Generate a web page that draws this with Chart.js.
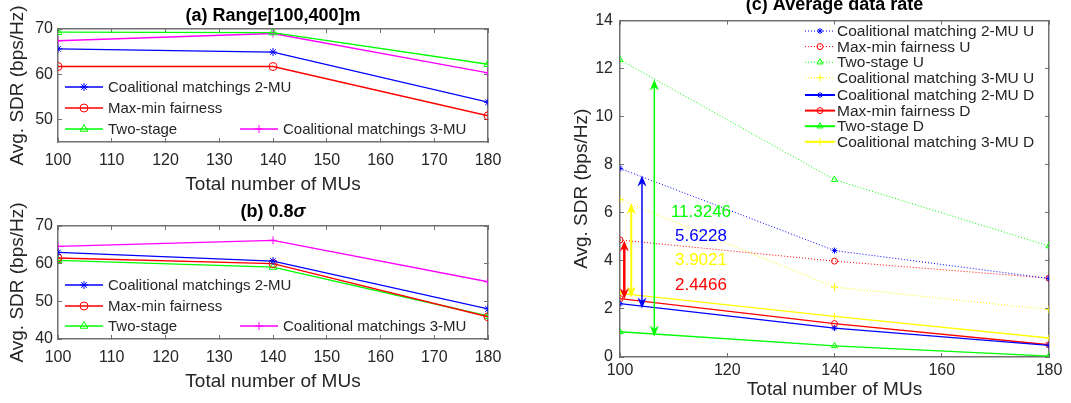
<!DOCTYPE html>
<html>
<head>
<meta charset="utf-8">
<script src="https://cdn.jsdelivr.net/npm/chart.js"></script>
<style>
html, body { margin: 0; padding: 0; background: #fff; }
#wrap { position: relative; width: 1071px; height: 403px; overflow: hidden; }
.panel { position: absolute; }
</style>
</head>
<body>
<div id="wrap">
    <div class="panel" style="left:0;top:0"><canvas id="chart-a" width="520" height="197"></canvas></div>
    <div class="panel" style="left:0;top:197px"><canvas id="chart-b" width="520" height="206"></canvas></div>
    <div class="panel" style="left:520px;top:0"><canvas id="chart-c" width="551" height="403"></canvas></div>
</div>
<script>
// --- data ---
const abMUs = [100, 140, 180];
const aTwoMU = [65.6, 64.9, 53.8];
const aMaxMin = [61.7, 61.7, 50.8];
const aTwoStage = [69.3, 69.2, 62.2];
const aThreeMU = [67.4, 69.0, 60.3];

const bTwoMU = [63.0, 60.7, 48.0];
const bMaxMin = [61.5, 60.0, 45.9];
const bTwoStage = [60.9, 59.1, 46.1];
const bThreeMU = [64.6, 66.2, 55.2];

const abXTicks = [100, 110, 120, 130, 140, 150, 160, 170, 180];
const aYTicks = [50, 60, 70];
const bYTicks = [40, 50, 60, 70];

const cMUs = [100, 140, 180];
const cTwoMU_U = [7.85, 4.43, 3.27];
const cMaxMin_U = [4.87, 3.99, 3.28];
const cTwoStage_U = [12.37, 7.38, 4.62];
const cThreeMU_U = [6.55, 2.91, 1.97];
const cTwoMU_D = [2.22, 1.20, 0.48];
const cMaxMin_D = [2.43, 1.39, 0.51];
const cTwoStage_D = [1.05, 0.46, 0.04];
const cThreeMU_D = [2.65, 1.69, 0.79];
const cXTicks = [100, 120, 140, 160, 180];
const cYTicks = [0, 2, 4, 6, 8, 10, 12, 14];

// gap annotations in (c)
const gapLabels = ['11.3246', '5.6228', '3.9021', '2.4466'];
const gapLabelX = [115.1, 115.1, 115.1, 115.1];
const gapLabelY = [6.02, 5.01, 4.02, 2.98];
const gapArrowX = [106.4, 104.1, 102.1, 100.8];
const gapArrowLow = [0.85, 2.02, 2.48, 2.4];
const gapArrowHigh = [11.55, 7.55, 6.4, 4.85];

// --- styles ---
const FONT = '"Liberation Sans", Arial, Helvetica, sans-serif';
const TXT = '#262626';
const AXIS = '#707070';
const BLUE = '#0000ff', RED = '#ff0000', GREEN = '#00ff00', MAGENTA = '#ff00ff', YELLOW = '#ffff00';
const gapColors = [GREEN, BLUE, YELLOW, RED];
const gapWidths = [1.5, 1.5, 2, 2.5];

const pts = (xs, ys) => xs.map((x, i) => ({ x: x, y: ys[i] }));

function series(label, xs, ys, color, marker, size, dotted) {
    return {
        label: label,
        data: pts(xs, ys),
        borderColor: color,
        backgroundColor: color,
        borderWidth: dotted ? 1 : 1.3,
        borderDash: dotted ? [1, 2] : [],
        pointStyle: marker,
        pointRadius: size,
        pointBorderColor: color,
        pointBackgroundColor: 'rgba(0,0,0,0)',
        pointBorderWidth: 1,
        tension: 0
    };
}

function frameScales(g) {
    const tickFont = { family: FONT, size: 16 };
    const titleFont = { family: FONT, size: 19 };
    const grid = { drawOnChartArea: false, drawTicks: true, tickLength: -4, color: AXIS, lineWidth: 1 };
    const border = { display: true, color: AXIS, width: 1.5 };
    const setTicks = vals => s => { s.ticks = vals.map(v => ({ value: v })); };
    return {
        x: {
            type: 'linear', position: 'bottom', min: g.xMin, max: g.xMax, grid: grid, border: border,
            afterBuildTicks: setTicks(g.xTicks),
            afterFit: s => { s.height = g.xHeight; },
            ticks: { font: tickFont, color: TXT, padding: g.xPad, maxRotation: 0, autoSkip: false },
            title: { display: true, text: 'Total number of MUs', font: titleFont, color: TXT,
                     padding: { top: 0, bottom: g.xTitlePad } }
        },
        y: {
            type: 'linear', position: 'left', min: g.yMin, max: g.yMax, grid: grid, border: border,
            afterBuildTicks: setTicks(g.yTicks),
            afterFit: s => { s.width = g.yWidth; },
            ticks: { font: tickFont, color: TXT, padding: g.yPad, autoSkip: false },
            title: { display: true, text: 'Avg. SDR (bps/Hz)', font: titleFont, color: TXT,
                     padding: { top: g.yTitlePad, bottom: 0 } }
        },
        x2: {
            type: 'linear', position: 'top', min: g.xMin, max: g.xMax, grid: grid, border: border,
            afterBuildTicks: setTicks(g.xTicks),
            afterFit: s => { s.height = 0; },
            ticks: { display: false }
        },
        y2: {
            type: 'linear', position: 'right', min: g.yMin, max: g.yMax, grid: grid, border: border,
            afterBuildTicks: setTicks(g.yTicks),
            afterFit: s => { s.width = 0; },
            ticks: { display: false }
        }
    };
}

function marker(ctx, ds, x, y) {
    ctx.save();
    ctx.strokeStyle = ds.pointBorderColor;
    ctx.fillStyle = ds.pointBackgroundColor;
    ctx.lineWidth = ds.pointBorderWidth;
    ctx.setLineDash([]);
    if (Chart.helpers && Chart.helpers.drawPoint) {
        Chart.helpers.drawPoint(ctx, { pointStyle: ds.pointStyle, radius: ds.pointRadius,
            borderWidth: ds.pointBorderWidth, rotation: 0 }, x, y);
    } else {
        ctx.beginPath(); ctx.arc(x, y, ds.pointRadius, 0, Math.PI * 2); ctx.stroke();
    }
    ctx.restore();
}

// legend drawn at fixed spots inside the axes (matlab-style)
const keyPlugin = {
    id: 'key',
    afterDraw(chart, args, opts) {
        if (!opts.items) return;
        const ctx = chart.ctx;
        ctx.save();
        opts.items.forEach(it => {
            const ds = chart.data.datasets[it.index];
            ctx.beginPath();
            ctx.strokeStyle = ds.borderColor;
            ctx.lineWidth = it.lw || ds.borderWidth;
            ctx.setLineDash(ds.borderDash || []);
            ctx.moveTo(it.x, it.y);
            ctx.lineTo(it.x + opts.sampleLen, it.y);
            ctx.stroke();
            ctx.setLineDash([]);
            marker(ctx, ds, it.x + opts.sampleLen / 2, it.y);
            ctx.font = opts.font;
            ctx.fillStyle = TXT;
            ctx.textAlign = 'left';
            ctx.textBaseline = 'middle';
            ctx.fillText(ds.label, it.x + opts.sampleLen + opts.gap, it.y + 1);
        });
        ctx.restore();
    }
};

const headPlugin = {
    id: 'head',
    afterDraw(chart, args, opts) {
        if (!opts.parts) return;
        const ctx = chart.ctx, a = chart.chartArea;
        ctx.save();
        ctx.fillStyle = '#000';
        ctx.textAlign = 'left';
        ctx.textBaseline = 'alphabetic';
        const widths = opts.parts.map(p => { ctx.font = p.font; return ctx.measureText(p.text).width; });
        let x = (a.left + a.right) / 2 - widths.reduce((s, w) => s + w, 0) / 2;
        opts.parts.forEach((p, i) => {
            ctx.font = p.font;
            ctx.fillText(p.text, x, opts.y);
            x += widths[i];
        });
        ctx.restore();
    }
};

const gapPlugin = {
    id: 'gaps',
    afterDatasetsDraw(chart) {
        const ctx = chart.ctx, xs = chart.scales.x, ys = chart.scales.y;
        ctx.save();
        gapArrowX.forEach((v, i) => {
            const px = xs.getPixelForValue(v);
            const top = ys.getPixelForValue(gapArrowHigh[i]);
            const bot = ys.getPixelForValue(gapArrowLow[i]);
            ctx.strokeStyle = gapColors[i];
            ctx.fillStyle = gapColors[i];
            ctx.lineWidth = gapWidths[i];
            ctx.beginPath();
            ctx.moveTo(px, top + 6);
            ctx.lineTo(px, bot - 6);
            ctx.stroke();
            [[top, 1], [bot, -1]].forEach(([tip, d]) => {
                ctx.beginPath();
                ctx.moveTo(px, tip);
                ctx.lineTo(px - 4.5, tip + 11 * d);
                ctx.lineTo(px, tip + 7.5 * d);
                ctx.lineTo(px + 4.5, tip + 11 * d);
                ctx.closePath();
                ctx.fill();
            });
        });
        ctx.font = '17px ' + FONT;
        ctx.textAlign = 'center';
        ctx.textBaseline = 'middle';
        gapLabels.forEach((t, i) => {
            ctx.fillStyle = gapColors[i];
            ctx.fillText(t, xs.getPixelForValue(gapLabelX[i]), ys.getPixelForValue(gapLabelY[i]));
        });
        ctx.restore();
    }
};

Chart.register(keyPlugin, headPlugin);

const baseOpts = { responsive: false, animation: false, events: [] };

function leftPanel(id, sets, yTicks, yMin, yMax, geo, title, keyRows) {
    return new Chart(document.getElementById(id), {
        type: 'line',
        data: { datasets: sets },
        options: Object.assign({}, baseOpts, {
            layout: { padding: { top: geo.top, right: 32, bottom: 0, left: 0 } },
            scales: frameScales({
                xMin: 100, xMax: 180, xTicks: abXTicks, yMin: yMin, yMax: yMax, yTicks: yTicks,
                xHeight: geo.xHeight, xPad: geo.xPad, xTitlePad: geo.xTitlePad,
                yWidth: 58, yPad: 9, yTitlePad: 6.6
            }),
            plugins: {
                legend: { display: false },
                tooltip: { enabled: false },
                head: { parts: title, y: geo.titleY },
                key: {
                    font: '15px ' + FONT, sampleLen: 38, gap: 5,
                    items: [
                        { index: 0, x: 65, y: keyRows[0] },
                        { index: 1, x: 65, y: keyRows[1] },
                        { index: 2, x: 65, y: keyRows[2] },
                        { index: 3, x: 240, y: keyRows[2] }
                    ]
                }
            }
        })
    });
}

leftPanel('chart-a', [
    series('Coalitional matchings 2-MU', abMUs, aTwoMU, BLUE, 'star', 4),
    series('Max-min fairness', abMUs, aMaxMin, RED, 'circle', 4),
    series('Two-stage', abMUs, aTwoStage, GREEN, 'triangle', 4.5),
    series('Coalitional matchings 3-MU', abMUs, aThreeMU, MAGENTA, 'cross', 4)
], aYTicks, 45, 70, { top: 29, xHeight: 55, xPad: 13, xTitlePad: 0.6, titleY: 20.5 },
[{ text: '(a) Range[100,400]m', font: 'bold 18px ' + FONT }], [87, 108, 129]);

leftPanel('chart-b', [
    series('Coalitional matchings 2-MU', abMUs, bTwoMU, BLUE, 'star', 4),
    series('Max-min fairness', abMUs, bMaxMin, RED, 'circle', 4),
    series('Two-stage', abMUs, bTwoStage, GREEN, 'triangle', 4.5),
    series('Coalitional matchings 3-MU', abMUs, bThreeMU, MAGENTA, 'cross', 4)
], bYTicks, 40, 70, { top: 29, xHeight: 64, xPad: 13.4, xTitlePad: 9.6, titleY: 19.7 },
[{ text: '(b) 0.8', font: 'bold 18px ' + FONT }, { text: 'σ', font: 'italic bold 18px ' + FONT }],
[88, 109, 129]);

const cSets = [
    series('Coalitional matching 2-MU U', cMUs, cTwoMU_U, BLUE, 'star', 3, true),
    series('Max-min fairness U', cMUs, cMaxMin_U, RED, 'circle', 3, true),
    series('Two-stage U', cMUs, cTwoStage_U, GREEN, 'triangle', 3.5, true),
    series('Coalitional matching 3-MU U', cMUs, cThreeMU_U, YELLOW, 'cross', 3.5, true),
    series('Coalitional matching 2-MU D', cMUs, cTwoMU_D, BLUE, 'star', 3),
    series('Max-min fairness D', cMUs, cMaxMin_D, RED, 'circle', 3),
    series('Two-stage D', cMUs, cTwoStage_D, GREEN, 'triangle', 3.5),
    series('Coalitional matching 3-MU D', cMUs, cThreeMU_D, YELLOW, 'cross', 3.5)
];
const cKeyRows = [31, 46.6, 62.2, 77.8, 95, 110.6, 126.2, 141.8];

new Chart(document.getElementById('chart-c'), {
    type: 'line',
    data: { datasets: cSets },
    options: Object.assign({}, baseOpts, {
        layout: { padding: { top: 19, right: 22, bottom: 0, left: 0 } },
        scales: frameScales({
            xMin: 100, xMax: 180, xTicks: cXTicks, yMin: 0, yMax: 14, yTicks: cYTicks,
            xHeight: 46, xPad: 8.4, xTitlePad: 1.6,
            yWidth: 100, yPad: 11, yTitlePad: 50.6
        }),
        plugins: {
            legend: { display: false },
            tooltip: { enabled: false },
            head: { parts: [{ text: '(c) Average data rate', font: 'bold 18px ' + FONT }], y: 10 },
            key: {
                font: '15.5px ' + FONT, sampleLen: 30, gap: 2,
                items: cSets.map((d, i) => ({ index: i, x: 285, y: cKeyRows[i], lw: i > 3 ? 2 : 1 }))
            }
        }
    }),
    plugins: [gapPlugin]
});
</script>
</body>
</html>
